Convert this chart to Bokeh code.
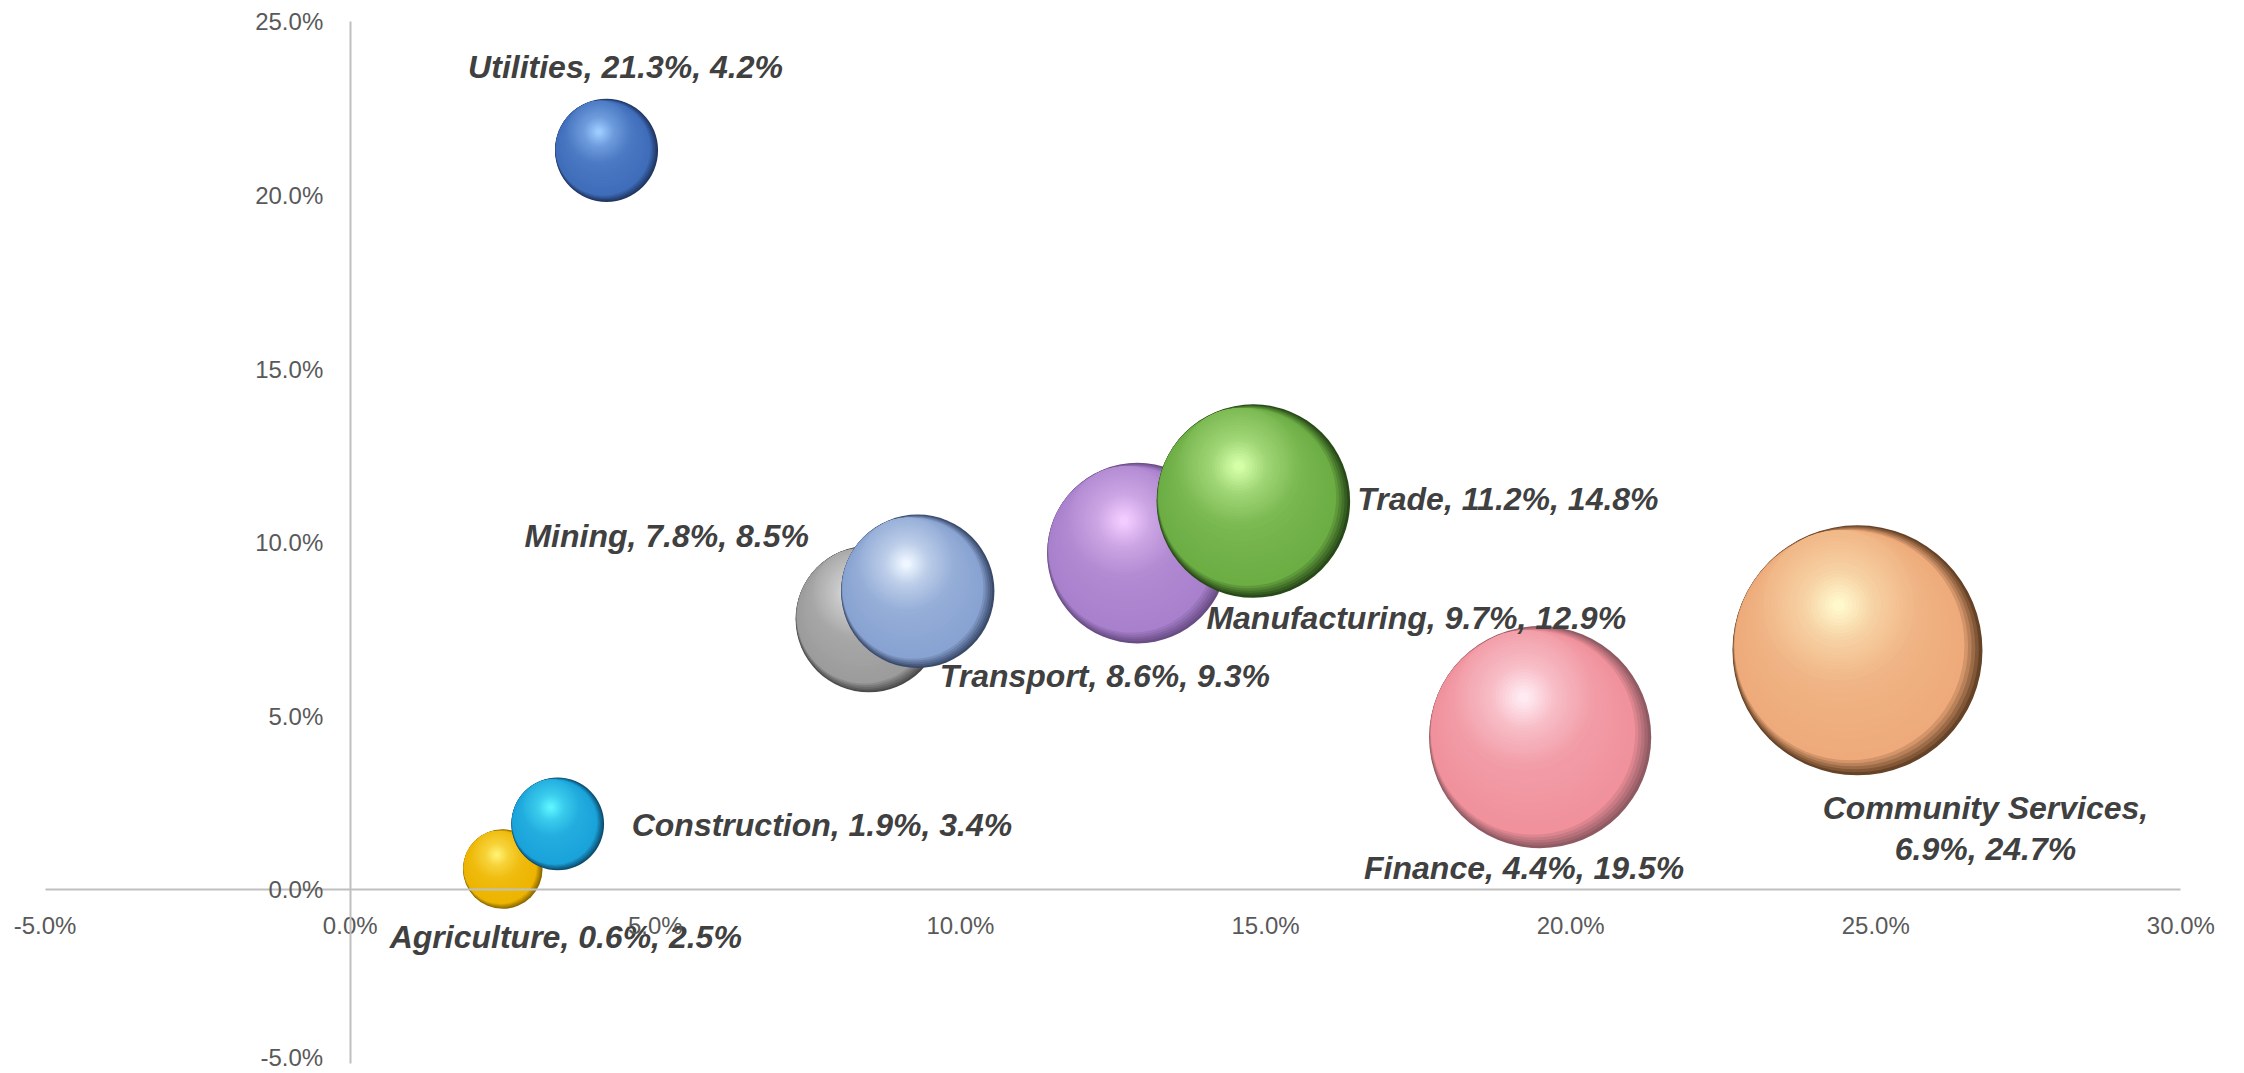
import numpy as np
from bokeh.plotting import figure
from bokeh.models import ColumnDataSource, FixedTicker, PrintfTickFormatter, Range1d
from bokeh.core.properties import value
from bokeh.embed import file_html
from bokeh.resources import INLINE

# ---------------- data ----------------
sectors = ["Agriculture", "Mining", "Manufacturing", "Utilities", "Construction",
           "Trade", "Transport", "Finance", "Community Services"]
growth = [0.6, 7.8, 9.7, 21.3, 1.9, 11.2, 8.6, 4.4, 6.9]      # y values (%)
share = [2.5, 8.5, 12.9, 4.2, 3.4, 14.8, 9.3, 19.5, 24.7]     # x values (%)
bubble = [2.5, 8.5, 12.9, 4.2, 3.4, 14.8, 9.3, 19.5, 24.7]    # bubble size values
x_ticks = [-5, 0, 5, 10, 15, 20, 25, 30]
y_ticks = [-5, 0, 5, 10, 15, 20, 25]
x_bounds = (-5, 30)
y_bounds = (-5, 25)

# ---------------- styles ----------------
base_cols = ["#EDB400", "#9C9C9C", "#A880CC", "#3F6DBA", "#1AA3DA",
             "#6CAD44", "#88A3D2", "#F0919C", "#EEAA7A"]
light_cols = ["#FFF070", "#F4F4F4", "#F2CCFF", "#9CCBFF", "#5CF4FF",
              "#D4FFA8", "#EEF6FF", "#FFEAF2", "#FFF8CC"]
dark_cols = ["#7A5C00", "#3C3C3C", "#5E4478", "#1B2D52", "#0B3E5C",
             "#1C3810", "#2C3A58", "#7E5058", "#4E3018"]
label_align = ["center", "right", "left", "center", "left", "left", "left", "center", "center"]
label_dx = [63, -60, 69, 19, 74, 104, 22, -16, 128]
label_dy = [68, -83, 65, -83, 1, -2, 85, 131, 178]

PX_X = 2136 / 35.0   # pixels per percent on x
PX_Y = 1042 / 30.0   # pixels per percent on y
X0, X1, Y0, Y1 = -5.6, 30.6, -5.2, 25.5
FW = int(round((X1 - X0) * PX_X))
FH = int(round((Y1 - Y0) * PX_Y))
px_x = FW / (X1 - X0)
px_y = FH / (Y1 - Y0)
R_SCALE = 125 / np.sqrt(24.7)


def hex2rgb(h):
    h = h.lstrip("#")
    return np.array([int(h[i:i + 2], 16) for i in (0, 2, 4)], dtype=float)


def rgb2hex(c):
    c = np.clip(np.round(c), 0, 255).astype(int)
    return "#%02x%02x%02x" % tuple(c)


def mix(a, b, t):
    return a + (b - a) * t


def unit(vx, vy):
    n = np.hypot(vx, vy)
    return np.array([vx / n, vy / n])


u_rim = unit(-0.55, -0.35)
u_hi = unit(-0.15, -0.36)

# build layered sphere shading
lx, ly, lsize, lcol = [], [], [], []
N = 36
S_RIM = 0.08
for i in range(len(sectors)):
    R = R_SCALE * np.sqrt(bubble[i])
    base = hex2rgb(base_cols[i])
    light = hex2rgb(light_cols[i])
    dark = mix(base, hex2rgb(dark_cols[i]), 0.85)
    stops = [(0.0, dark), (S_RIM, base), (0.35, mix(base, light, 0.12)),
             (0.7, mix(base, light, 0.5)), (0.95, light)]
    off_rim = 0.95 * S_RIM * R * u_rim
    off_hi = 0.39 * R * u_hi
    for k in range(N):
        if k < 5:
            s = S_RIM * k / 5
        else:
            s = S_RIM + (0.95 - S_RIM) * (k - 5) / (N - 6)
        r = R * (1 - s)
        if s <= S_RIM:
            off = off_rim * (s / S_RIM)
        elif s <= 0.4:
            off = mix(off_rim, off_hi, (s - S_RIM) / (0.4 - S_RIM))
        else:
            off = off_hi
        for j in range(len(stops) - 1):
            if stops[j][0] <= s <= stops[j + 1][0]:
                t = (s - stops[j][0]) / (stops[j + 1][0] - stops[j][0])
                col = mix(stops[j][1], stops[j + 1][1], t)
                break
        else:
            col = stops[-1][1]
        lx.append(share[i] + off[0] / px_x)
        ly.append(growth[i] - off[1] / px_y)
        lsize.append(2 * r)
        lcol.append(rgb2hex(col))

src = ColumnDataSource(dict(x=lx, y=ly, size=lsize, color=lcol))

p = figure(frame_width=FW, frame_height=FH, output_backend="svg", toolbar_location=None,
           x_range=Range1d(X0, X1), y_range=Range1d(Y0, Y1),
           min_border_left=8, min_border_right=8, min_border_top=4, min_border_bottom=0)
p.outline_line_color = None
p.xgrid.visible = False
p.ygrid.visible = False

p.scatter("x", "y", size="size", fill_color="color", line_color=None, source=src)

labels = []
for n, yv, xv in zip(sectors, growth, share):
    if n == "Community Services":
        labels.append(f"{n},\n{yv:.1f}%, {xv:.1f}%")
    else:
        labels.append(f"{n}, {yv:.1f}%, {xv:.1f}%")
lsrc = ColumnDataSource(dict(x=share, y=growth, text=labels, align=label_align,
                             dx=label_dx, dy=label_dy))
p.text("x", "y", text="text", x_offset="dx", y_offset="dy", text_align="align",
       text_baseline="middle", text_font=value("Liberation Sans"),
       text_font_style="bold italic", text_font_size="32px", text_color="#404040",
       text_line_height=1.15, source=lsrc)

for ax, ticks, standoff, bnds in ((p.xaxis, x_ticks, 16, x_bounds),
                                  (p.yaxis, y_ticks, 21, y_bounds)):
    ax.fixed_location = 0
    ax.bounds = bnds
    ax.ticker = FixedTicker(ticks=ticks)
    ax.formatter = PrintfTickFormatter(format="%.1f%%")
    ax.major_tick_line_color = None
    ax.minor_tick_line_color = None
    ax.axis_line_color = "#BFBFBF"
    ax.axis_line_width = 2
    ax.major_label_text_font = "Liberation Sans"
    ax.major_label_text_font_size = "24px"
    ax.major_label_text_color = "#595959"
    ax.major_label_standoff = standoff

open("out.html", "w").write(file_html(p, INLINE))
